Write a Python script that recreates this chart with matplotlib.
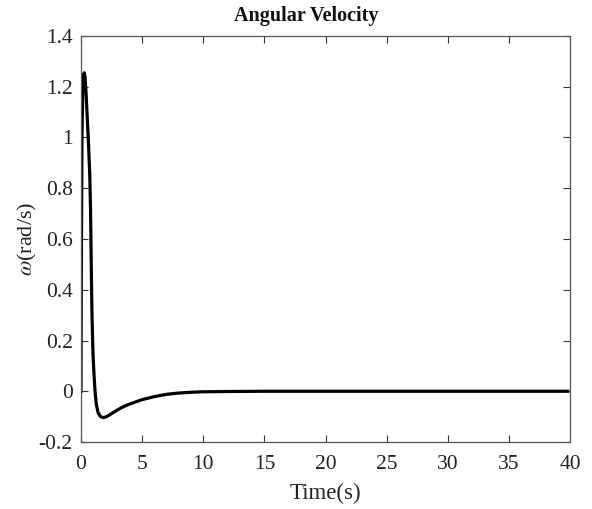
import matplotlib
matplotlib.use("Agg")
import matplotlib.pyplot as plt

plt.rcParams['font.family'] = ['Liberation Serif', 'DejaVu Serif']
plt.rcParams['mathtext.fontset'] = 'stix'

time_s = [0, 0.03, 0.08, 0.15, 0.22, 0.27, 0.33, 0.42, 0.52, 0.62, 0.72, 0.78,
          0.84, 0.9, 0.98, 1.06, 1.15, 1.25, 1.4, 1.6, 1.83, 2.1, 2.5, 3.0, 3.5,
          4.0, 5.0, 6.0, 7.0, 8.0, 9.0, 10, 12, 15, 20, 25, 30, 35, 39.8]
omega = [0, 0.5, 1.0, 1.2, 1.25, 1.255, 1.24, 1.17, 1.07, 0.97, 0.85, 0.72,
         0.5, 0.3, 0.15, 0.07, 0.0, -0.05, -0.085, -0.1, -0.104, -0.1, -0.088,
         -0.073, -0.06, -0.05, -0.033, -0.021, -0.012, -0.007, -0.004, -0.002,
         -0.001, 0, 0, 0, 0, 0, 0]
x_ticks = [0, 5, 10, 15, 20, 25, 30, 35, 40]
y_ticks = [-0.2, 0, 0.2, 0.4, 0.6, 0.8, 1, 1.2, 1.4]
y_tick_labels = ['-0.2', '0', '0.2', '0.4', '0.6', '0.8', '1', '1.2', '1.4']

fig = plt.figure(figsize=(5.92, 5.09), dpi=100)
ax = fig.add_axes([0.1368, 0.1316, 0.963 - 0.1368, 0.9293 - 0.1316])
ax.plot(time_s, omega, color='black', linewidth=2.3, solid_joinstyle='round')
ax.set_xlim(0, 40)
ax.set_ylim(-0.2, 1.4)
ax.set_xticks(x_ticks)
ax.set_xticklabels([str(v) for v in x_ticks])
ax.set_yticks(y_ticks)
ax.set_yticklabels(y_tick_labels)
ax.tick_params(direction='in', top=True, right=True, labelsize=15.5, length=5,
               width=0.8, colors='#333333', labelcolor='#222222')
ax.tick_params(axis='x', pad=9)
ax.tick_params(axis='y', pad=6)
for s in ax.spines.values():
    s.set_color('#555555')
    s.set_linewidth(0.9)
fig.text(306 / 592, 1 - 16 / 509, 'Angular Velocity', fontsize=14.5,
         fontweight='bold', ha='center', va='center', color='#111111')
ax.set_xlabel('Time(s)', fontsize=16.5, labelpad=7, color='#222222')
ax.set_ylabel(r'$\omega$(rad/s)', fontsize=16, labelpad=0, color='#222222')
fig.savefig('out.png', dpi=100)
